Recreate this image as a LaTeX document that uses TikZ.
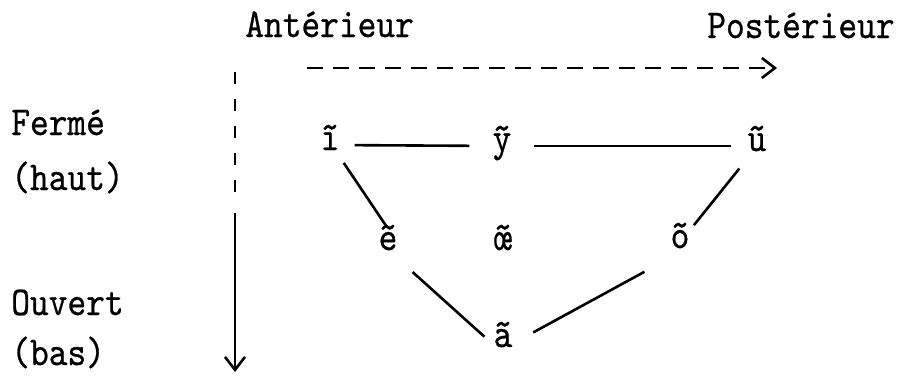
\documentclass[tikz,border=0pt]{standalone}
\usepackage{fontspec}
\setmonofont{lmmono10-regular.otf}[FakeStretch=0.87, FakeBold=0.6]
\usetikzlibrary{arrows.meta}

\tikzset{
  etiq/.style={anchor=base west, inner sep=0pt, font=\ttfamily\fontsize{41}{48}\selectfont},
  voy/.style={anchor=base, inner sep=2pt, text height=18pt, text depth=8pt,
    font=\ttfamily\fontsize{41}{48}\selectfont},
}

\begin{document}
\begin{tikzpicture}[x=1pt, y=-1pt, line width=2.6pt,
    >={Straight Barb[length=13pt, width=20pt]}]
  \useasboundingbox (0,0) rectangle (907,384);
  % titres des axes
  \node[etiq] (ant) at (244,37) {Antérieur};
  \node[etiq] (post) at (706,38) {Postérieur};
  % étiquettes à gauche
  \foreach \n/\y/\t in {fer/135/Fermé, haut/190/{(haut)}, ouv/315/Ouvert, bas/365/{(bas)}}{
    \node[etiq] (\n) at (10,\y) {\t};
  }
  % axe horizontal (pointillé)
  \coordinate (h0) at (307,68);
  \coordinate (h1) at (777,68);
  \draw[->, dash pattern=on 16pt off 10pt] (h0) -- (h1);
  % axe vertical
  \coordinate (v0) at (235,72);
  \coordinate (v1) at (235,195);
  \coordinate (v2) at (235,213);
  \coordinate (v3) at (235,372);
  \draw[dash pattern=on 12pt off 15pt] (v0) -- (v1);
  \draw[->] (v2) -- (v3);
  % voyelles nasales
  \node[voy] (i) at (330,150) {ĩ};
  \node[voy] (y) at (502,151) {ỹ};
  \node[voy] (u) at (757,151) {ũ};
  \node[voy] (e) at (388,250) {ẽ};
  \node[voy] (oe) at (503,250) {œ̃};
  \node[voy] (o) at (680,248) {õ};
  \node[voy] (a) at (503,347) {ã};
  % traits
  \draw[shorten <=12pt, shorten >=20pt] (i) -- (y);
  \draw[shorten <=19pt, shorten >=13pt] (y) -- (u);
  \draw[shorten <=2pt, shorten >=2pt] (i.south east) -- (e.north);
  \draw[shorten <=8pt, shorten >=2pt] (u.south west) -- (o.north east);
  \draw[shorten <=16pt, shorten >=8pt] (e.south east) -- (a.west);
  \draw[shorten <=20pt, shorten >=26pt] (a.east) -- (o.south west);
\end{tikzpicture}
\end{document}
